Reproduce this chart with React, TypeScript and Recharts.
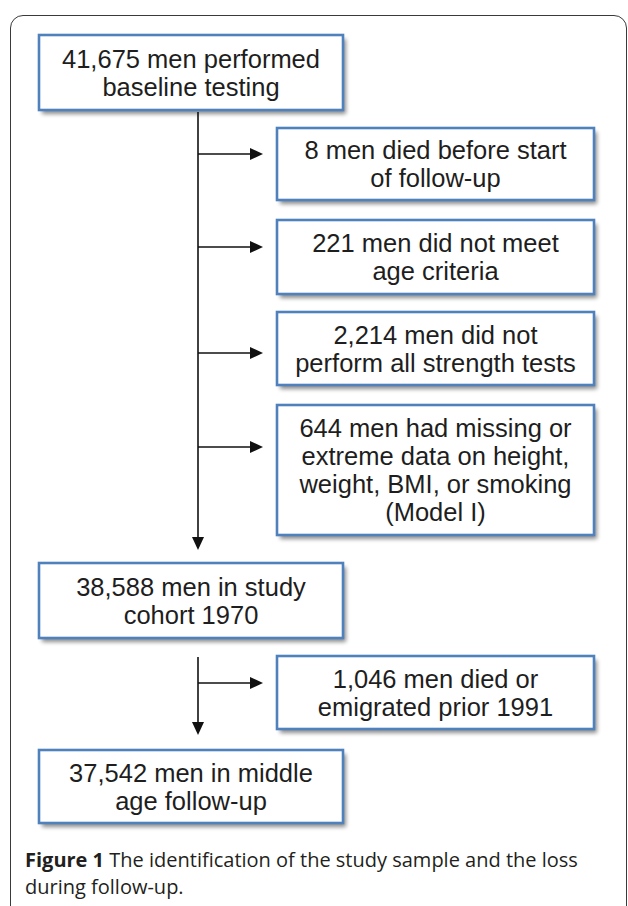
import { ComposedChart, XAxis, YAxis, ReferenceArea, ReferenceLine, Scatter } from "recharts";

// ─── Palette ────────────────────────────────────────────────────────────────
const C_BORDER = "#4f81bd";
const C_TEXT = "#1e1e1e";
const C_LINE = "#111111";
const C_FRAME = "#3a3a3a";

// ─── Diagram data (diagram units: 0..628 across, 0..906 down) ───────────────
const BOX_TEXT = [
  ["41,675 men performed", "baseline testing"],
  ["8 men died before start", "of follow-up"],
  ["221 men did not meet", "age criteria"],
  ["2,214 men did not", "perform all strength tests"],
  ["644 men had missing or", "extreme data on height,", "weight, BMI, or smoking", "(Model I)"],
  ["38,588 men in study", "cohort 1970"],
  ["1,046 men died or", "emigrated prior 1991"],
  ["37,542 men in middle", "age follow-up"],
];
const BOX_LEFT = [39, 277, 277, 277, 277, 39, 277, 39];
const BOX_RIGHT = [343, 594, 594, 594, 594, 343, 594, 343];
const BOX_TOP = [35, 128, 220, 312, 405, 563, 656, 750];
const BOX_BOTTOM = [110, 200, 294, 385, 535, 638, 729, 823];

const TRUNK_X = 198;
const TRUNKS = [
  [112, 540],
  [657, 725],
];
const BRANCH_Y = [154, 247, 353, 447, 683];
const BRANCH_END = 252;

const HEADS = [
  ...BRANCH_Y.map((y) => ({ x: 263, y, dir: "right" })),
  { x: TRUNK_X, y: 550, dir: "down" },
  { x: TRUNK_X, y: 735, dir: "down" },
];

const CAPTION_LINES = [
  ["Figure 1", " The identification of the study sample and the loss"],
  ["", "during follow-up."],
];

// ─── Shapes ─────────────────────────────────────────────────────────────────
function BoxShape(props: any) {
  const { x, y, width, height, lines, idx } = props;
  const cx = x + width / 2;
  const cy = y + height / 2;
  const lh = 28;
  return (
    <g>
      <defs>
        <filter id={`blur${idx}`} x="-10%" y="-10%" width="120%" height="130%">
          <feGaussianBlur stdDeviation="2.2" />
        </filter>
      </defs>
      <rect x={x + 3} y={y + 4} width={width} height={height} fill="#000" opacity={0.45} filter={`url(#blur${idx})`} />
      <rect x={x} y={y} width={width} height={height} fill="#fff" stroke={C_BORDER} strokeWidth={2.6} />
      {lines.map((t: string, i: number) => (
        <text
          key={i}
          x={cx}
          y={cy + (i - (lines.length - 1) / 2) * lh}
          textAnchor="middle"
          dominantBaseline="central"
          fontFamily="'Liberation Sans', Arial, sans-serif"
          fontSize={25.5}
          fill={C_TEXT}
        >
          {t}
        </text>
      ))}
    </g>
  );
}

function HeadShape(props: any) {
  const { cx, cy, payload } = props;
  const pts =
    payload.dir === "right"
      ? `${cx},${cy} ${cx - 13},${cy - 6} ${cx - 13},${cy + 6}`
      : `${cx},${cy} ${cx - 6},${cy - 13} ${cx + 6},${cy - 13}`;
  return <polygon points={pts} fill={C_LINE} />;
}

// ─── Component ──────────────────────────────────────────────────────────────
export default function App() {
  return (
    <div style={{ position: "fixed", left: 0, top: 0, width: 628, height: 906, overflow: "hidden", background: "#fff" }}>
      {/* outer frame, open at the bottom */}
      <div
        style={{
          position: "absolute",
          left: 10,
          top: 15,
          width: 617,
          height: 1000,
          border: `1.5px solid ${C_FRAME}`,
          borderRadius: 13,
          boxSizing: "border-box",
        }}
      />
      <div style={{ position: "absolute", left: 0, top: 0 }}>
        <ComposedChart width={628} height={906} margin={{ top: 0, right: 0, bottom: 0, left: 0 }}>
          <XAxis type="number" dataKey="x" domain={[0, 628]} hide />
          <YAxis type="number" dataKey="y" domain={[0, 906]} reversed hide />

          {TRUNKS.map(([y1, y2], i) => (
            <ReferenceLine
              key={`t${i}`}
              segment={[
                { x: TRUNK_X, y: y1 },
                { x: TRUNK_X, y: y2 },
              ]}
              stroke={C_LINE}
              strokeWidth={1.6}
            />
          ))}
          {BRANCH_Y.map((y, i) => (
            <ReferenceLine
              key={`b${i}`}
              segment={[
                { x: TRUNK_X, y },
                { x: BRANCH_END, y },
              ]}
              stroke={C_LINE}
              strokeWidth={1.6}
            />
          ))}

          {BOX_TEXT.map((lines, i) => (
            <ReferenceArea
              key={`box${i}`}
              x1={BOX_LEFT[i]}
              x2={BOX_RIGHT[i]}
              y1={BOX_TOP[i]}
              y2={BOX_BOTTOM[i]}
              shape={(p: any) => <BoxShape {...p} lines={lines} idx={i} />}
            />
          ))}

          <Scatter data={HEADS} shape={HeadShape} isAnimationActive={false} />
        </ComposedChart>
      </div>

      <div
        style={{
          position: "absolute",
          left: 25,
          top: 846,
          width: 600,
          fontFamily: "'Open Sans', sans-serif",
          fontSize: 20,
          lineHeight: "27px",
          color: "#231f20",
          whiteSpace: "nowrap",
        }}
      >
        {CAPTION_LINES.map(([bold, rest], i) => (
          <div key={i}>
            {bold ? <b>{bold}</b> : null}
            {rest}
          </div>
        ))}
      </div>
    </div>
  );
}
